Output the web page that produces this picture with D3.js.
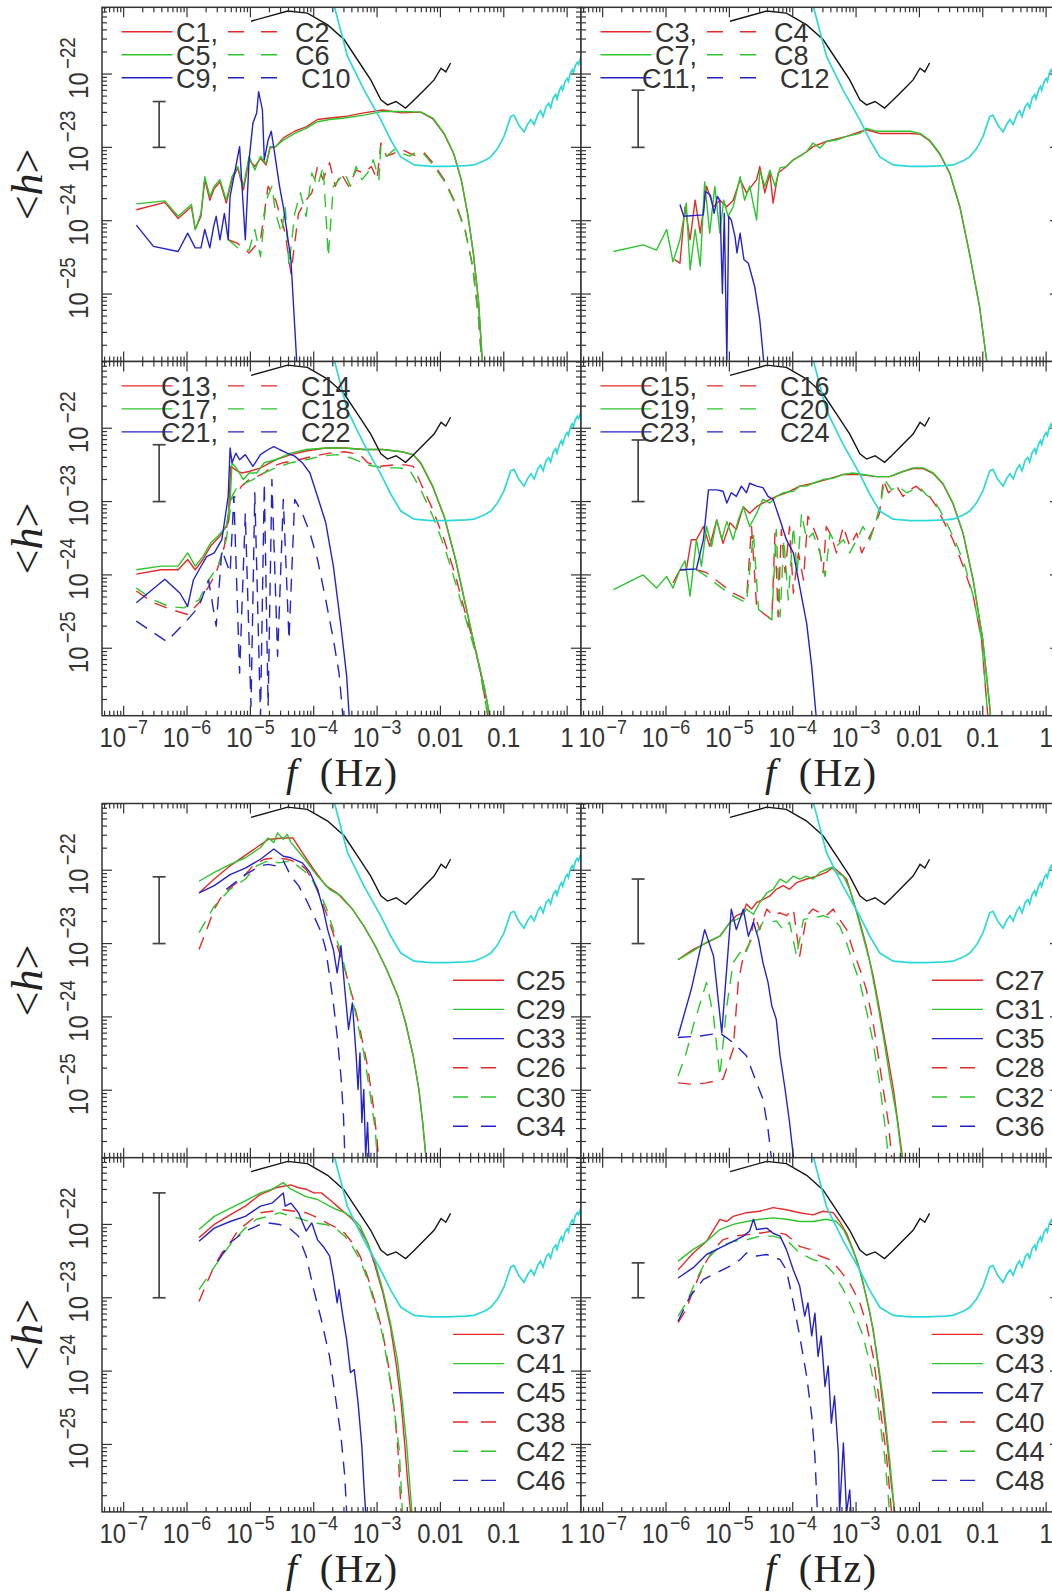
<!DOCTYPE html>
<html><head><meta charset="utf-8">
<script src="https://cdn.jsdelivr.net/npm/d3@7"></script>
<style>body{margin:0;background:#fff}svg{display:block}</style>
</head><body>
<svg id="c" width="1052" height="1596"></svg>
<script>
// ===== DATA (log10 f [Hz], log10 <h>) =====
const X_TICK_VALUES = [1e-7,1e-6,1e-5,1e-4,1e-3,0.01,0.1,1];
const X_TICK_LABELS = [["10","\u22127"],["10","\u22126"],["10","\u22125"],["10","\u22124"],["10","\u22123"],["0.01",""],["0.1",""],["1",""]];
const Y_TICK_VALUES = [1e-25,1e-24,1e-23,1e-22];
const Y_TICK_LABELS = [["10","\u221225"],["10","\u221224"],["10","\u221223"],["10","\u221222"]];

const BLACK_F = [-4.99,-4.41,-4.10,-3.78,-3.52,-3.26,-3.10,-2.94,-2.835,-2.70,-2.55,-2.44,-2.26,-2.10,-1.99,-1.915,-1.84];
const BLACK_H = [-21.28,-21.14,-21.17,-21.33,-21.53,-21.87,-22.08,-22.35,-22.42,-22.375,-22.465,-22.375,-22.22,-22.08,-21.92,-21.97,-21.85];

const CYAN = [[-3.85,-20.75],[-3.68,-21.06],[-3.466,-21.76],[-3.204,-22.22],[-2.94,-22.625],[-2.783,-22.90],[-2.625,-23.13],[-2.415,-23.24],[-2.15,-23.26],[-1.89,-23.26],[-1.6,-23.25],[-1.47,-23.24],[-1.3,-23.18],[-1.205,-23.13],[-1.1,-23.02],[-0.995,-22.85],[-0.89,-22.58],[-0.84,-22.56],[-0.76,-22.70],[-0.68,-22.79],[-0.62,-22.68],[-0.57,-22.62],[-0.52,-22.69],[-0.46,-22.55],[-0.42,-22.50],[-0.38,-22.58],[-0.33,-22.44],[-0.29,-22.40],[-0.26,-22.46],[-0.22,-22.33],[-0.18,-22.28],[-0.16,-22.34],[-0.12,-22.22],[-0.09,-22.17],[-0.07,-22.22],[-0.03,-22.10],[0.00,-22.06],[0.02,-22.10],[0.05,-21.99],[0.08,-21.94],[0.10,-21.98],[0.13,-21.88],[0.16,-21.84],[0.18,-21.87],[0.21,-21.79],[0.25,-21.74]];

// Panel 1
const C1 = [[-6.80,-23.85],[-6.35,-23.75],[-6.14,-23.97],[-5.93,-23.81],[-5.87,-24.12],[-5.78,-23.94],[-5.72,-23.44],[-5.64,-23.72],[-5.57,-23.56],[-5.48,-23.47],[-5.38,-23.76],[-5.29,-23.44],[-5.20,-23.28],[-5.11,-23.58],[-5.02,-23.17],[-4.93,-23.26],[-4.84,-23.15],[-4.75,-23.24],[-4.69,-23.01],[-4.60,-22.99],[-4.48,-22.87],[-4.30,-22.78],[-4.12,-22.72],[-3.94,-22.62],[-3.75,-22.60],[-3.51,-22.58],[-3.21,-22.53],[-2.91,-22.49],[-2.61,-22.53],[-2.31,-22.52],[-2.12,-22.61],[-1.94,-22.82],[-1.79,-23.09],[-1.67,-23.45],[-1.57,-23.91],[-1.48,-24.45],[-1.40,-25.09],[-1.34,-25.90],[-1.30,-26.5]];
const C2 = [[-5.35,-24.26],[-5.20,-24.31],[-5.02,-24.44],[-4.84,-24.26],[-4.72,-23.53],[-4.60,-23.72],[-4.45,-24.17],[-4.36,-24.72],[-4.24,-23.90],[-4.12,-23.72],[-4.03,-23.62],[-3.94,-23.26],[-3.85,-23.44],[-3.75,-23.21],[-3.66,-23.53],[-3.57,-23.35],[-3.45,-23.53],[-3.33,-23.31],[-3.21,-23.35],[-3.09,-23.26],[-3.00,-23.44],[-2.94,-22.94],[-2.85,-23.12],[-2.73,-23.08],[-2.61,-23.03],[-2.49,-23.08],[-2.37,-23.12],[-2.25,-23.08],[-2.12,-23.21],[-1.94,-23.44],[-1.76,-23.76],[-1.61,-24.12],[-1.49,-24.62],[-1.40,-25.31],[-1.35,-25.90],[-1.31,-26.44]];
const C5 = [[-6.80,-23.77],[-6.35,-23.73],[-6.14,-23.94],[-5.93,-23.78],[-5.87,-24.12],[-5.78,-23.90],[-5.72,-23.40],[-5.64,-23.67],[-5.57,-23.53],[-5.48,-23.44],[-5.38,-23.72],[-5.29,-23.40],[-5.20,-23.26],[-5.11,-23.53],[-5.02,-23.12],[-4.93,-23.31],[-4.84,-23.12],[-4.75,-23.22],[-4.69,-22.99],[-4.60,-22.99],[-4.48,-22.90],[-4.30,-22.81],[-4.12,-22.74],[-3.94,-22.65],[-3.75,-22.62],[-3.51,-22.60],[-3.21,-22.56],[-2.91,-22.51],[-2.61,-22.51],[-2.31,-22.52],[-2.12,-22.60],[-1.94,-22.81],[-1.79,-23.08],[-1.67,-23.44],[-1.57,-23.90],[-1.48,-24.44],[-1.40,-25.08],[-1.34,-25.90],[-1.30,-26.5]];
const C6 = [[-5.35,-24.26],[-5.20,-24.37],[-5.02,-24.40],[-4.93,-24.12],[-4.84,-24.49],[-4.75,-23.72],[-4.66,-23.53],[-4.60,-23.90],[-4.51,-24.17],[-4.45,-23.81],[-4.39,-24.62],[-4.30,-23.90],[-4.21,-23.62],[-4.12,-23.94],[-4.03,-23.35],[-3.94,-23.53],[-3.85,-23.26],[-3.77,-24.49],[-3.69,-23.53],[-3.60,-23.44],[-3.51,-23.35],[-3.42,-23.53],[-3.33,-23.26],[-3.24,-23.44],[-3.15,-23.35],[-3.06,-23.17],[-2.97,-23.44],[-2.94,-22.99],[-2.85,-23.12],[-2.73,-23.03],[-2.61,-23.08],[-2.49,-23.12],[-2.37,-23.06],[-2.25,-23.10],[-2.12,-23.24],[-1.94,-23.46],[-1.76,-23.78],[-1.61,-24.14],[-1.49,-24.64],[-1.40,-25.33],[-1.35,-25.90],[-1.31,-26.44]];
const C9 = [[-6.80,-24.06],[-6.53,-24.35],[-6.14,-24.42],[-5.99,-24.17],[-5.87,-24.37],[-5.78,-24.37],[-5.72,-24.12],[-5.64,-24.37],[-5.58,-24.08],[-5.54,-23.94],[-5.48,-24.26],[-5.41,-23.90],[-5.35,-24.26],[-5.32,-23.67],[-5.26,-23.40],[-5.17,-22.99],[-5.08,-24.26],[-5.02,-23.17],[-4.96,-22.67],[-4.90,-22.53],[-4.87,-22.24],[-4.81,-22.49],[-4.78,-23.17],[-4.72,-22.90],[-4.67,-22.78],[-4.61,-23.12],[-4.54,-23.53],[-4.48,-23.81],[-4.36,-24.53],[-4.27,-25.90],[-4.24,-26.44]];
const C10 = [];
// Panel 2
const C3 = [[-5.86,-24.53],[-5.78,-24.58],[-5.70,-23.81],[-5.62,-24.26],[-5.54,-23.72],[-5.46,-24.17],[-5.36,-23.53],[-5.25,-23.81],[-5.15,-23.72],[-5.04,-23.81],[-4.94,-23.72],[-4.83,-23.44],[-4.73,-23.62],[-4.57,-23.44],[-4.52,-23.26],[-4.44,-23.62],[-4.36,-23.35],[-4.31,-23.76],[-4.23,-23.35],[-4.10,-23.26],[-3.99,-23.17],[-3.89,-23.12],[-3.78,-23.06],[-3.68,-22.99],[-3.47,-22.92],[-3.15,-22.85],[-2.84,-22.76],[-2.63,-22.81],[-2.41,-22.81],[-2.15,-22.81],[-1.99,-22.82],[-1.84,-22.91],[-1.68,-23.09],[-1.52,-23.36],[-1.36,-23.82],[-1.21,-24.45],[-1.05,-25.18],[-0.94,-25.90],[-0.89,-26.35]];
const C4 = [];
const C7 = [[-6.83,-24.42],[-6.36,-24.33],[-6.15,-24.40],[-5.99,-24.12],[-5.89,-24.56],[-5.78,-24.26],[-5.68,-23.76],[-5.62,-24.67],[-5.54,-24.12],[-5.46,-24.62],[-5.39,-23.47],[-5.31,-24.17],[-5.23,-23.53],[-5.15,-24.17],[-5.09,-23.72],[-5.02,-23.94],[-4.94,-23.81],[-4.83,-23.40],[-4.76,-23.72],[-4.68,-23.53],[-4.57,-23.99],[-4.52,-23.31],[-4.44,-23.53],[-4.36,-23.31],[-4.28,-23.53],[-4.20,-23.28],[-4.10,-23.26],[-3.99,-23.17],[-3.89,-23.12],[-3.78,-23.06],[-3.68,-22.94],[-3.57,-23.01],[-3.47,-22.92],[-3.31,-22.90],[-3.15,-22.85],[-2.94,-22.81],[-2.84,-22.74],[-2.68,-22.78],[-2.41,-22.78],[-2.15,-22.78],[-1.99,-22.81],[-1.84,-22.90],[-1.68,-23.08],[-1.52,-23.35],[-1.36,-23.81],[-1.21,-24.44],[-1.05,-25.17],[-0.94,-25.90],[-0.89,-26.35]];
const C8 = [];
const C11 = [[-5.78,-23.78],[-5.72,-23.94],[-5.41,-23.92],[-5.38,-23.60],[-5.30,-23.65],[-5.24,-23.90],[-5.19,-23.67],[-5.15,-23.72],[-5.11,-24.99],[-5.08,-23.90],[-5.04,-25.90],[-5.01,-23.94],[-4.97,-23.99],[-4.91,-24.22],[-4.88,-24.44],[-4.83,-24.17],[-4.77,-24.53],[-4.70,-24.58],[-4.60,-24.90],[-4.52,-25.35],[-4.46,-25.90],[-4.43,-26.4]];
const C12 = [];
// Panel 3
const C13 = [[-6.80,-23.99],[-6.41,-23.93],[-6.14,-23.93],[-5.99,-23.79],[-5.87,-23.93],[-5.75,-23.79],[-5.63,-23.61],[-5.48,-23.47],[-5.35,-23.29],[-5.31,-22.52],[-5.23,-22.57],[-5.14,-22.61],[-5.02,-22.59],[-4.84,-22.54],[-4.60,-22.43],[-4.36,-22.36],[-4.12,-22.31],[-3.81,-22.27],[-3.51,-22.27],[-3.21,-22.29],[-2.91,-22.29],[-2.61,-22.32],[-2.43,-22.36],[-2.31,-22.48],[-2.12,-22.80],[-1.94,-23.21],[-1.76,-23.80],[-1.61,-24.39],[-1.46,-24.98],[-1.31,-25.53],[-1.22,-25.93],[-1.18,-26.2]];
const C14 = [[-6.80,-24.22],[-6.53,-24.38],[-6.26,-24.47],[-5.99,-24.54],[-5.81,-24.38],[-5.66,-24.16],[-5.54,-23.97],[-5.41,-23.61],[-5.32,-22.97],[-5.23,-22.93],[-5.14,-22.79],[-5.02,-22.70],[-4.90,-22.66],[-4.78,-22.61],[-4.66,-22.52],[-4.48,-22.47],[-4.24,-22.43],[-4.00,-22.38],[-3.75,-22.34],[-3.51,-22.32],[-3.27,-22.36],[-3.15,-22.47],[-2.97,-22.52],[-2.73,-22.50],[-2.55,-22.50],[-2.43,-22.52],[-2.31,-22.75],[-2.12,-23.11],[-1.94,-23.52],[-1.76,-24.02],[-1.58,-24.61],[-1.40,-25.16],[-1.25,-25.93],[-1.19,-26.25]];
const C17 = [[-6.80,-23.93],[-6.41,-23.88],[-6.14,-23.88],[-5.99,-23.70],[-5.87,-23.88],[-5.75,-23.75],[-5.63,-23.57],[-5.51,-23.47],[-5.38,-23.34],[-5.32,-23.02],[-5.29,-22.47],[-5.20,-22.57],[-5.11,-22.70],[-5.02,-22.61],[-4.90,-22.61],[-4.78,-22.47],[-4.60,-22.43],[-4.36,-22.34],[-4.12,-22.29],[-3.81,-22.27],[-3.51,-22.27],[-3.21,-22.29],[-2.91,-22.29],[-2.61,-22.32],[-2.43,-22.36],[-2.31,-22.47],[-2.12,-22.79],[-1.94,-23.20],[-1.76,-23.79],[-1.61,-24.38],[-1.46,-24.97],[-1.31,-25.52],[-1.22,-25.93],[-1.18,-26.2]];
const C18 = [[-6.80,-24.18],[-6.53,-24.34],[-6.29,-24.43],[-6.05,-24.45],[-5.81,-24.34],[-5.66,-24.07],[-5.51,-23.88],[-5.38,-23.52],[-5.29,-22.93],[-5.20,-22.79],[-5.08,-22.75],[-4.96,-22.70],[-4.78,-22.61],[-4.60,-22.54],[-4.36,-22.47],[-4.12,-22.43],[-3.88,-22.38],[-3.63,-22.36],[-3.39,-22.41],[-3.15,-22.50],[-2.91,-22.54],[-2.67,-22.54],[-2.49,-22.56],[-2.31,-22.84],[-2.12,-23.20],[-1.94,-23.61],[-1.76,-24.11],[-1.58,-24.66],[-1.40,-25.20],[-1.25,-25.93],[-1.19,-26.25]];
const C21 = [[-6.80,-24.38],[-6.35,-24.06],[-6.11,-24.25],[-5.99,-24.43],[-5.90,-24.07],[-5.81,-23.93],[-5.69,-23.75],[-5.57,-23.70],[-5.45,-23.52],[-5.35,-22.93],[-5.32,-22.27],[-5.29,-22.47],[-5.23,-22.34],[-5.17,-22.43],[-5.08,-22.36],[-4.96,-22.52],[-4.84,-22.36],[-4.72,-22.29],[-4.63,-22.25],[-4.54,-22.29],[-4.42,-22.34],[-4.30,-22.38],[-4.18,-22.47],[-4.06,-22.61],[-3.94,-22.93],[-3.81,-23.29],[-3.69,-23.88],[-3.57,-24.70],[-3.48,-25.38],[-3.44,-25.93],[-3.42,-26.25]];
const C22 = [[-6.80,-24.63],[-6.32,-24.91],[-5.99,-24.61],[-5.81,-24.43],[-5.66,-24.07],[-5.54,-24.70],[-5.45,-23.66],[-5.32,-23.97],[-5.26,-22.93],[-5.17,-25.34],[-5.08,-23.16],[-4.99,-25.79],[-4.93,-22.88],[-4.84,-25.93],[-4.78,-22.75],[-4.72,-25.79],[-4.66,-22.70],[-4.57,-25.11],[-4.48,-22.97],[-4.39,-24.88],[-4.30,-22.97],[-4.18,-23.16],[-4.06,-23.43],[-3.94,-23.79],[-3.81,-24.34],[-3.69,-24.88],[-3.60,-25.34],[-3.54,-25.93],[-3.52,-26.2]];
// Panel 4
const C15 = [[-5.89,-24.11],[-5.78,-23.93],[-5.68,-23.93],[-5.60,-23.52],[-5.52,-23.52],[-5.41,-23.34],[-5.31,-23.61],[-5.20,-23.25],[-5.10,-23.57],[-4.99,-23.29],[-4.89,-23.38],[-4.78,-23.07],[-4.68,-23.16],[-4.57,-23.07],[-4.47,-23.02],[-4.36,-22.97],[-4.26,-22.93],[-4.10,-22.88],[-3.89,-22.79],[-3.68,-22.75],[-3.47,-22.70],[-3.20,-22.63],[-2.94,-22.63],[-2.68,-22.66],[-2.47,-22.66],[-2.26,-22.59],[-2.10,-22.55],[-1.94,-22.55],[-1.78,-22.62],[-1.63,-22.76],[-1.47,-23.03],[-1.31,-23.44],[-1.15,-24.08],[-1.00,-24.89],[-0.89,-25.80],[-0.85,-26.25]];
const C16 = [[-5.52,-23.93],[-5.36,-23.97],[-5.15,-24.11],[-4.94,-24.25],[-4.73,-24.34],[-4.65,-23.34],[-4.57,-24.43],[-4.47,-24.52],[-4.33,-24.61],[-4.28,-23.43],[-4.23,-24.57],[-4.18,-23.38],[-4.12,-23.97],[-4.05,-23.34],[-3.99,-24.25],[-3.91,-23.70],[-3.83,-24.07],[-3.76,-23.20],[-3.68,-23.34],[-3.60,-23.52],[-3.52,-23.97],[-3.47,-23.34],[-3.39,-23.47],[-3.31,-23.70],[-3.20,-23.34],[-3.10,-23.61],[-2.99,-23.43],[-2.91,-23.70],[-2.84,-23.57],[-2.73,-23.38],[-2.63,-23.16],[-2.57,-22.70],[-2.49,-22.88],[-2.36,-22.79],[-2.26,-22.93],[-2.15,-22.84],[-2.05,-22.79],[-1.94,-22.88],[-1.84,-22.93],[-1.73,-23.07],[-1.63,-23.25],[-1.47,-23.52],[-1.31,-23.88],[-1.15,-24.29],[-1.02,-24.88],[-0.92,-25.93],[-0.89,-26.25]];
const C19 = [[-6.83,-24.20],[-6.36,-24.00],[-6.15,-24.18],[-5.99,-24.02],[-5.89,-24.18],[-5.78,-23.93],[-5.70,-23.81],[-5.62,-24.29],[-5.52,-23.52],[-5.44,-23.88],[-5.36,-23.34],[-5.28,-23.61],[-5.20,-23.25],[-5.12,-23.52],[-5.04,-23.27],[-4.94,-23.52],[-4.86,-23.25],[-4.78,-23.07],[-4.68,-23.34],[-4.57,-23.16],[-4.47,-22.97],[-4.36,-23.02],[-4.26,-22.93],[-4.15,-22.88],[-3.99,-22.86],[-3.89,-22.79],[-3.78,-22.79],[-3.68,-22.75],[-3.52,-22.70],[-3.36,-22.68],[-3.20,-22.63],[-3.05,-22.61],[-2.89,-22.63],[-2.68,-22.66],[-2.47,-22.66],[-2.26,-22.59],[-2.10,-22.54],[-1.94,-22.54],[-1.78,-22.61],[-1.63,-22.75],[-1.47,-23.02],[-1.31,-23.43],[-1.15,-24.07],[-1.00,-24.88],[-0.89,-25.79],[-0.85,-26.25]];
const C20 = [[-5.52,-23.93],[-5.36,-24.02],[-5.15,-24.16],[-4.94,-24.29],[-4.73,-24.38],[-4.62,-23.43],[-4.54,-24.47],[-4.41,-24.57],[-4.33,-24.61],[-4.26,-23.38],[-4.20,-24.57],[-4.14,-23.52],[-4.07,-24.34],[-3.99,-23.34],[-3.93,-23.97],[-3.86,-23.16],[-3.78,-23.52],[-3.68,-23.43],[-3.57,-23.70],[-3.49,-24.02],[-3.41,-23.43],[-3.31,-23.61],[-3.20,-23.52],[-3.10,-23.70],[-2.99,-23.52],[-2.89,-23.34],[-2.78,-23.52],[-2.68,-23.25],[-2.60,-22.97],[-2.55,-22.70],[-2.44,-22.84],[-2.34,-22.79],[-2.20,-22.88],[-2.10,-22.84],[-1.99,-22.81],[-1.89,-22.91],[-1.78,-22.97],[-1.68,-23.11],[-1.57,-23.29],[-1.42,-23.57],[-1.28,-23.88],[-1.15,-24.29],[-1.02,-24.88],[-0.92,-25.93],[-0.89,-26.25]];
const C23 = [[-5.78,-23.93],[-5.52,-23.92],[-5.41,-23.52],[-5.33,-22.84],[-5.20,-22.84],[-5.10,-22.86],[-5.04,-23.02],[-4.97,-22.88],[-4.89,-22.93],[-4.81,-22.79],[-4.73,-22.88],[-4.68,-22.75],[-4.57,-22.79],[-4.47,-22.81],[-4.39,-22.93],[-4.31,-22.97],[-4.20,-23.25],[-4.10,-23.52],[-3.99,-23.70],[-3.89,-24.16],[-3.78,-24.66],[-3.70,-25.25],[-3.63,-25.93],[-3.61,-26.25]];
const C24 = [];
// Panel 5
const C25 = [[-5.81,-22.31],[-5.57,-22.12],[-5.32,-21.94],[-5.02,-21.76],[-4.72,-21.58],[-4.48,-21.56],[-4.33,-21.56],[-4.18,-21.76],[-4.00,-21.99],[-3.81,-22.21],[-3.63,-22.31],[-3.39,-22.53],[-3.21,-22.76],[-3.03,-23.03],[-2.85,-23.35],[-2.67,-23.72],[-2.55,-24.08],[-2.43,-24.53],[-2.34,-24.99],[-2.28,-25.44],[-2.23,-25.90],[-2.22,-26.35]];
const C26 = [[-5.81,-23.08],[-5.69,-22.81],[-5.57,-22.53],[-5.45,-22.35],[-5.32,-22.24],[-5.14,-22.12],[-4.96,-21.94],[-4.78,-21.85],[-4.60,-21.83],[-4.42,-21.85],[-4.24,-21.90],[-4.12,-21.99],[-4.00,-22.17],[-3.88,-22.40],[-3.75,-22.71],[-3.63,-23.03],[-3.51,-23.35],[-3.39,-23.72],[-3.27,-24.17],[-3.15,-24.67],[-3.06,-25.21],[-3.00,-25.67],[-2.96,-26.12]];
const C29 = [[-5.81,-22.15],[-5.57,-22.03],[-5.32,-21.92],[-5.08,-21.83],[-4.84,-21.69],[-4.72,-21.56],[-4.63,-21.62],[-4.57,-21.49],[-4.48,-21.58],[-4.42,-21.51],[-4.36,-21.62],[-4.18,-21.81],[-3.94,-22.08],[-3.75,-22.26],[-3.57,-22.35],[-3.39,-22.53],[-3.21,-22.76],[-3.03,-23.03],[-2.85,-23.35],[-2.67,-23.72],[-2.55,-24.08],[-2.43,-24.53],[-2.34,-24.99],[-2.28,-25.44],[-2.23,-25.90],[-2.22,-26.35]];
const C30 = [[-5.81,-22.85],[-5.69,-22.67],[-5.57,-22.49],[-5.32,-22.26],[-5.08,-22.12],[-4.90,-21.94],[-4.72,-21.87],[-4.54,-21.90],[-4.36,-21.87],[-4.18,-21.99],[-4.06,-22.08],[-3.94,-22.26],[-3.81,-22.49],[-3.69,-22.81],[-3.57,-23.12],[-3.45,-23.53],[-3.33,-23.99],[-3.21,-24.49],[-3.12,-24.99],[-3.03,-25.53],[-2.98,-26.12]];
const C33 = [[-5.81,-22.31],[-5.57,-22.21],[-5.32,-22.06],[-5.08,-21.97],[-4.84,-21.85],[-4.63,-21.71],[-4.48,-21.81],[-4.36,-21.83],[-4.18,-21.90],[-4.06,-22.03],[-3.94,-22.26],[-3.85,-22.53],[-3.78,-22.81],[-3.69,-23.08],[-3.63,-23.40],[-3.57,-23.03],[-3.51,-23.62],[-3.45,-24.17],[-3.39,-23.81],[-3.33,-24.53],[-3.30,-24.99],[-3.27,-24.49],[-3.24,-25.44],[-3.21,-24.99],[-3.18,-25.90],[-3.15,-25.44],[-3.12,-26.12]];
const C34 = [[-5.38,-22.26],[-5.08,-22.06],[-4.84,-21.94],[-4.72,-21.92],[-4.60,-21.94],[-4.48,-21.87],[-4.36,-22.08],[-4.24,-22.21],[-4.12,-22.40],[-4.00,-22.62],[-3.88,-22.85],[-3.81,-23.08],[-3.75,-23.44],[-3.69,-23.81],[-3.63,-24.26],[-3.57,-24.81],[-3.53,-25.35],[-3.50,-26.12]];
// Panel 6
const C27 = [[-5.81,-23.22],[-5.57,-23.08],[-5.36,-22.99],[-5.15,-22.90],[-4.99,-22.71],[-4.89,-22.62],[-4.78,-22.58],[-4.73,-22.46],[-4.65,-22.53],[-4.57,-22.44],[-4.47,-22.40],[-4.36,-22.35],[-4.26,-22.26],[-4.15,-22.21],[-4.05,-22.26],[-3.94,-22.17],[-3.78,-22.12],[-3.62,-22.08],[-3.47,-22.03],[-3.36,-21.96],[-3.26,-22.03],[-3.15,-22.12],[-3.05,-22.40],[-2.94,-22.71],[-2.84,-23.03],[-2.73,-23.44],[-2.63,-23.90],[-2.52,-24.44],[-2.41,-24.99],[-2.34,-25.44],[-2.27,-25.90],[-2.25,-26.17]];
const C28 = [[-5.81,-24.90],[-5.57,-24.92],[-5.36,-24.90],[-5.10,-24.85],[-4.94,-24.44],[-4.86,-23.53],[-4.78,-23.17],[-4.68,-22.99],[-4.60,-22.62],[-4.52,-22.81],[-4.41,-22.53],[-4.31,-22.62],[-4.20,-22.58],[-4.10,-22.62],[-3.99,-22.53],[-3.89,-23.17],[-3.78,-22.62],[-3.68,-22.53],[-3.57,-22.58],[-3.47,-22.62],[-3.36,-22.53],[-3.26,-22.67],[-3.15,-22.81],[-3.05,-23.08],[-2.94,-23.35],[-2.84,-23.62],[-2.73,-24.08],[-2.65,-24.53],[-2.57,-24.99],[-2.49,-25.44],[-2.44,-25.90],[-2.41,-26.17]];
const C31 = [[-5.81,-23.22],[-5.57,-23.10],[-5.36,-22.98],[-5.15,-22.90],[-4.99,-22.71],[-4.83,-22.65],[-4.73,-22.53],[-4.62,-22.60],[-4.52,-22.44],[-4.41,-22.31],[-4.31,-22.26],[-4.20,-22.12],[-4.10,-22.17],[-3.99,-22.08],[-3.89,-22.12],[-3.78,-22.08],[-3.68,-22.12],[-3.57,-22.03],[-3.47,-21.99],[-3.39,-21.96],[-3.31,-22.03],[-3.20,-22.08],[-3.10,-22.26],[-2.99,-22.58],[-2.89,-22.90],[-2.78,-23.26],[-2.68,-23.72],[-2.57,-24.26],[-2.47,-24.81],[-2.36,-25.35],[-2.28,-25.90],[-2.26,-26.17]];
const C32 = [[-5.81,-24.81],[-5.68,-24.49],[-5.57,-24.12],[-5.46,-23.81],[-5.36,-23.53],[-5.25,-23.99],[-5.15,-24.81],[-5.04,-23.85],[-4.94,-23.26],[-4.83,-23.12],[-4.76,-23.17],[-4.68,-22.99],[-4.57,-22.85],[-4.47,-22.71],[-4.36,-22.71],[-4.26,-22.69],[-4.15,-22.81],[-4.05,-22.71],[-3.94,-23.17],[-3.83,-22.67],[-3.68,-22.65],[-3.52,-22.62],[-3.36,-22.67],[-3.26,-22.76],[-3.15,-22.99],[-3.05,-23.26],[-2.94,-23.53],[-2.84,-23.90],[-2.73,-24.35],[-2.63,-24.90],[-2.55,-25.44],[-2.49,-25.90],[-2.47,-26.17]];
const C35 = [[-5.81,-24.26],[-5.60,-23.62],[-5.39,-22.81],[-5.25,-23.17],[-5.12,-24.22],[-4.97,-22.53],[-4.89,-22.81],[-4.78,-22.53],[-4.70,-22.90],[-4.62,-22.71],[-4.54,-22.94],[-4.47,-23.26],[-4.39,-23.53],[-4.33,-23.85],[-4.26,-24.03],[-4.20,-24.53],[-4.12,-24.99],[-4.05,-25.44],[-3.99,-25.90],[-3.97,-26.17]];
const C36 = [[-5.81,-24.28],[-5.46,-24.26],[-5.15,-24.22],[-4.94,-24.35],[-4.73,-24.53],[-4.57,-24.90],[-4.47,-25.12],[-4.39,-25.53],[-4.34,-25.90],[-4.31,-26.17]];
// Panel 7
const C37 = [[-5.81,-22.18],[-5.57,-22.00],[-5.32,-21.87],[-5.08,-21.75],[-4.84,-21.59],[-4.72,-21.55],[-4.60,-21.50],[-4.48,-21.48],[-4.36,-21.46],[-4.24,-21.50],[-4.12,-21.52],[-4.00,-21.57],[-3.88,-21.57],[-3.75,-21.66],[-3.63,-21.75],[-3.51,-21.84],[-3.39,-21.93],[-3.27,-22.07],[-3.15,-22.25],[-3.03,-22.57],[-2.91,-22.93],[-2.79,-23.39],[-2.70,-23.89],[-2.62,-24.43],[-2.56,-25.03],[-2.52,-25.48],[-2.47,-25.93],[-2.44,-26.3]];
const C38 = [[-5.81,-23.05],[-5.69,-22.80],[-5.57,-22.57],[-5.45,-22.39],[-5.32,-22.25],[-5.20,-22.09],[-5.02,-21.96],[-4.84,-21.84],[-4.66,-21.82],[-4.48,-21.80],[-4.30,-21.82],[-4.12,-21.84],[-3.94,-21.91],[-3.75,-22.00],[-3.63,-22.05],[-3.51,-22.12],[-3.39,-22.25],[-3.27,-22.43],[-3.15,-22.71],[-3.03,-23.07],[-2.91,-23.48],[-2.82,-23.93],[-2.73,-24.52],[-2.67,-25.07],[-2.62,-25.93],[-2.60,-26.25]];
const C41 = [[-5.81,-22.07],[-5.57,-21.89],[-5.32,-21.78],[-5.08,-21.68],[-4.84,-21.57],[-4.66,-21.52],[-4.48,-21.43],[-4.36,-21.52],[-4.12,-21.62],[-3.94,-21.66],[-3.75,-21.75],[-3.63,-21.80],[-3.51,-21.84],[-3.39,-21.91],[-3.27,-22.02],[-3.15,-22.25],[-3.03,-22.52],[-2.91,-22.89],[-2.79,-23.34],[-2.68,-23.84],[-2.60,-24.43],[-2.53,-25.03],[-2.49,-25.48],[-2.45,-25.93],[-2.42,-26.3]];
const C42 = [[-5.81,-22.89],[-5.63,-22.66],[-5.45,-22.43],[-5.26,-22.21],[-5.08,-22.05],[-4.90,-21.93],[-4.72,-21.89],[-4.54,-21.84],[-4.36,-21.89],[-4.18,-21.93],[-4.00,-21.98],[-3.81,-22.00],[-3.63,-22.07],[-3.51,-22.16],[-3.39,-22.30],[-3.27,-22.48],[-3.15,-22.75],[-3.03,-23.12],[-2.91,-23.52],[-2.82,-23.98],[-2.73,-24.52],[-2.65,-25.07],[-2.60,-25.93],[-2.57,-26.25]];
const C45 = [[-5.81,-22.23],[-5.57,-22.05],[-5.32,-21.96],[-5.08,-21.89],[-4.84,-21.75],[-4.66,-21.71],[-4.48,-21.57],[-4.45,-21.75],[-4.36,-21.71],[-4.24,-21.84],[-4.12,-22.09],[-4.03,-21.98],[-3.94,-22.21],[-3.85,-22.30],[-3.75,-22.43],[-3.69,-22.71],[-3.63,-23.07],[-3.60,-22.89],[-3.54,-23.25],[-3.48,-23.57],[-3.42,-24.02],[-3.36,-23.98],[-3.30,-24.43],[-3.24,-25.03],[-3.21,-25.52],[-3.18,-25.93],[-3.16,-26.25]];
const C46 = [[-5.51,-22.50],[-5.32,-22.25],[-5.08,-22.09],[-4.84,-22.00],[-4.72,-21.98],[-4.54,-22.00],[-4.36,-22.07],[-4.24,-22.16],[-4.12,-22.43],[-4.00,-22.89],[-3.88,-23.30],[-3.75,-23.80],[-3.66,-24.34],[-3.57,-24.89],[-3.51,-25.43],[-3.48,-25.93],[-3.47,-26.25]];
// Panel 8
const C39 = [[-5.81,-22.62],[-5.57,-22.39],[-5.36,-22.23],[-5.15,-21.93],[-5.04,-21.96],[-4.94,-21.89],[-4.73,-21.84],[-4.52,-21.82],[-4.31,-21.77],[-4.10,-21.80],[-3.89,-21.84],[-3.68,-21.87],[-3.52,-21.82],[-3.36,-21.84],[-3.26,-21.96],[-3.15,-22.12],[-3.05,-22.34],[-2.94,-22.62],[-2.84,-22.98],[-2.73,-23.43],[-2.63,-24.07],[-2.52,-24.89],[-2.44,-25.57],[-2.39,-25.93],[-2.36,-26.25]];
const C40 = [[-5.81,-23.34],[-5.68,-23.16],[-5.57,-22.89],[-5.41,-22.57],[-5.25,-22.34],[-5.10,-22.21],[-4.94,-22.16],[-4.73,-22.14],[-4.52,-22.12],[-4.31,-22.09],[-4.10,-22.14],[-3.89,-22.30],[-3.73,-22.34],[-3.57,-22.43],[-3.41,-22.48],[-3.26,-22.62],[-3.10,-22.80],[-2.94,-23.07],[-2.84,-23.34],[-2.73,-23.80],[-2.63,-24.43],[-2.52,-25.16],[-2.44,-25.93],[-2.41,-26.25]];
const C43 = [[-5.81,-22.50],[-5.57,-22.34],[-5.36,-22.23],[-5.15,-22.07],[-4.94,-22.00],[-4.73,-21.96],[-4.52,-21.93],[-4.31,-21.91],[-4.10,-21.93],[-3.89,-21.96],[-3.68,-21.96],[-3.47,-21.93],[-3.31,-21.96],[-3.20,-22.07],[-3.10,-22.25],[-2.99,-22.48],[-2.89,-22.80],[-2.78,-23.21],[-2.68,-23.71],[-2.57,-24.39],[-2.47,-25.21],[-2.39,-25.93],[-2.36,-26.25]];
const C44 = [[-5.81,-23.25],[-5.68,-23.07],[-5.52,-22.75],[-5.36,-22.48],[-5.15,-22.30],[-4.94,-22.23],[-4.73,-22.21],[-4.52,-22.16],[-4.31,-22.16],[-4.10,-22.21],[-3.89,-22.39],[-3.68,-22.48],[-3.52,-22.52],[-3.36,-22.66],[-3.20,-22.89],[-3.05,-23.16],[-2.89,-23.52],[-2.76,-23.98],[-2.65,-24.52],[-2.55,-25.16],[-2.47,-25.93],[-2.44,-26.25]];
const C47 = [[-5.81,-22.73],[-5.57,-22.59],[-5.36,-22.41],[-5.15,-22.32],[-4.94,-22.23],[-4.78,-22.16],[-4.68,-22.09],[-4.62,-21.93],[-4.57,-22.07],[-4.41,-22.05],[-4.31,-22.12],[-4.20,-22.16],[-4.10,-22.34],[-3.99,-22.62],[-3.89,-22.84],[-3.81,-23.25],[-3.76,-23.07],[-3.70,-23.52],[-3.65,-23.21],[-3.60,-23.80],[-3.55,-23.52],[-3.49,-24.21],[-3.44,-23.93],[-3.39,-24.71],[-3.34,-24.34],[-3.28,-25.12],[-3.26,-25.93],[-3.20,-24.98],[-3.15,-25.93],[-3.10,-25.62],[-3.06,-26.25]];
const C48 = [[-5.81,-23.32],[-5.62,-22.98],[-5.41,-22.75],[-5.20,-22.66],[-4.99,-22.57],[-4.83,-22.48],[-4.73,-22.39],[-4.57,-22.43],[-4.41,-22.41],[-4.20,-22.48],[-4.10,-22.62],[-3.99,-23.07],[-3.89,-23.52],[-3.78,-24.07],[-3.70,-24.61],[-3.65,-25.16],[-3.61,-25.93],[-3.60,-26.25]];

// panel membership, order: [red solid, red dashed, green solid, green dashed, blue solid, blue dashed]
const PANEL_SERIES = [
  ["C1","C2","C5","C6","C9","C10"], ["C3","C4","C7","C8","C11","C12"],
  ["C13","C14","C17","C18","C21","C22"], ["C15","C16","C19","C20","C23","C24"],
  ["C25","C26","C29","C30","C33","C34"], ["C27","C28","C31","C32","C35","C36"],
  ["C37","C38","C41","C42","C45","C46"], ["C39","C40","C43","C44","C47","C48"]
];
// calibration error bars: log10 f, log10 bottom, log10 top per panel
const ERRBAR_F = -6.44;
const ERRBAR_LOW = -23.0;
const ERRBAR_HIGH = [-22.375,-22.22,-22.225,-22.16,-22.09,-22.12,-21.57,-22.524];

const SERIES = {C1,C2,C3,C4,C5,C6,C7,C8,C9,C10,C11,C12,C13,C14,C15,C16,C17,C18,C19,C20,C21,C22,C23,C24,
  C25,C26,C27,C28,C29,C30,C31,C32,C33,C34,C35,C36,C37,C38,C39,C40,C41,C42,C43,C44,C45,C46,C47,C48};

// ===== LAYOUT / STYLE =====
const W = 479, H = 354.2;
const COL_X = [102, 581];
const ROW_Y = [7.3, 361.5, 803.5, 1157.7];
const COLORS = ["#e52a2a","#e52a2a","#2cc62c","#2cc62c","#2323c8","#2323c8"];
const SANS = "'Liberation Sans', Arial, Helvetica, sans-serif";
const SERIF = "'Liberation Serif', 'Times New Roman', serif";
const TXT = "#333";
const P10 = v => Math.pow(10, v);

const svg = d3.select("#c");
svg.append("rect").attr("width",1052).attr("height",1596).attr("fill","#fff");
const defs = svg.append("defs");

for (let p = 0; p < 8; p++) {
  const col = p % 2, row = Math.floor(p / 2);
  const x0 = COL_X[col], top = ROW_Y[row];
  const x = d3.scaleLog().domain([P10(-7.342), P10(0.219)]).range([x0, x0 + W]);
  const y = d3.scaleLog().domain([P10(-25.92), P10(-21.09)]).range([top + H, top]);
  const g = svg.append("g");
  g.append("rect").attr("x",x0).attr("y",top).attr("width",W).attr("height",H).attr("fill","#fff");

  defs.append("clipPath").attr("id","clip"+p).append("rect")
    .attr("x",x0).attr("y",top).attr("width",W).attr("height",H);
  const plot = g.append("g").attr("clip-path","url(#clip"+p+")");
  const line = d3.line().x(d => x(P10(d[0]))).y(d => y(P10(d[1])));

  const names = PANEL_SERIES[p];
  const drawOrder = [1,3,5,0,2,4];
  drawOrder.forEach(i => {
    const data = SERIES[names[i]];
    if (!data.length) return;
    plot.append("path").attr("d", line(data)).attr("fill","none")
      .attr("stroke", COLORS[i]).attr("stroke-width", 1.4)
      .attr("stroke-dasharray", i % 2 ? "13,9" : null)
      .attr("stroke-linejoin","round");
  });
  // reference curves
  plot.append("path").attr("d", line(BLACK_F.map((f,k)=>[f,BLACK_H[k]]))).attr("fill","none")
    .attr("stroke","#151515").attr("stroke-width",1.4);
  plot.append("path").attr("d", line(CYAN)).attr("fill","none")
    .attr("stroke","#2ed8d8").attr("stroke-width",1.7);

  // error bar
  const ex = x(P10(ERRBAR_F)), ey0 = y(P10(ERRBAR_LOW)), ey1 = y(P10(ERRBAR_HIGH[p]));
  const eb = g.append("g").attr("stroke","#444").attr("stroke-width",1.7);
  eb.append("line").attr("x1",ex).attr("x2",ex).attr("y1",ey0).attr("y2",ey1);
  eb.append("line").attr("x1",ex-6.5).attr("x2",ex+6.5).attr("y1",ey0).attr("y2",ey0);
  eb.append("line").attr("x1",ex-6.5).attr("x2",ex+6.5).attr("y1",ey1).attr("y2",ey1);

  // frame + ticks
  const ax = g.append("g").attr("stroke","#333").attr("stroke-width",1.2);
  const isMajor = t => Math.abs(Math.log10(t) - Math.round(Math.log10(t))) < 1e-6;
  x.ticks().forEach(t => {
    const xx = x(t); if (xx < x0 + 0.5 || xx > x0 + W - 0.5) return;
    const len = isMajor(t) ? 10 : 5;
    ax.append("line").attr("x1",xx).attr("x2",xx).attr("y1",top+H).attr("y2",top+H-len);
    ax.append("line").attr("x1",xx).attr("x2",xx).attr("y1",top).attr("y2",top+len);
  });
  y.ticks().forEach(t => {
    const yy = y(t); if (yy < top + 0.5 || yy > top + H - 0.5) return;
    const len = isMajor(t) ? 10 : 5;
    ax.append("line").attr("x1",x0).attr("x2",x0+len).attr("y1",yy).attr("y2",yy);
    ax.append("line").attr("x1",x0+W).attr("x2",x0+W-len).attr("y1",yy).attr("y2",yy);
  });
  g.append("rect").attr("x",x0).attr("y",top).attr("width",W).attr("height",H)
    .attr("fill","none").attr("stroke","#333").attr("stroke-width",1.5);

  // x tick labels on bottom panels of each group
  if (row === 1 || row === 3) {
    X_TICK_VALUES.forEach((v,k) => {
      const lg = g.append("g").attr("transform",`translate(${x(v)},${top+H+31}) scale(0.85,1)`);
      const t = lg.append("text").attr("text-anchor","middle").attr("font-family",SANS)
        .attr("font-size",28).attr("fill",TXT);
      t.append("tspan").text(X_TICK_LABELS[k][0]);
      if (X_TICK_LABELS[k][1]) t.append("tspan").attr("dx",2).attr("dy",-13).attr("font-size",21).text(X_TICK_LABELS[k][1]);
    });
    const tt = g.append("text").attr("x", x0 + W/2).attr("y", top + H + 70)
      .attr("text-anchor","middle").attr("font-family",SERIF).attr("font-size",40).attr("fill","#222")
      .attr("textLength",111).attr("lengthAdjust","spacing");
    tt.append("tspan").attr("font-style","italic").text("f");
    tt.append("tspan").text("\u2002(Hz)");
  }
  // y tick labels + title on left panels
  if (col === 0) {
    Y_TICK_VALUES.forEach((v,k) => {
      const lg = g.append("g").attr("transform",`translate(88,${y(v)-6}) rotate(-90) scale(0.85,1)`);
      const t = lg.append("text").attr("text-anchor","middle").attr("font-family",SANS)
        .attr("font-size",28).attr("fill",TXT);
      t.append("tspan").text(Y_TICK_LABELS[k][0]);
      t.append("tspan").attr("dx",4).attr("dy",-13).attr("font-size",22).text(Y_TICK_LABELS[k][1]);
    });
    const yt = g.append("text").attr("transform",`translate(42,${top+H/2}) rotate(-90)`)
      .attr("text-anchor","middle").attr("font-family",SERIF).attr("font-size",44).attr("fill","#222");
    yt.append("tspan").text("<");
    yt.append("tspan").attr("font-style","italic").text("h");
    yt.append("tspan").text(">");
  }

  // legends
  const lgd = g.append("g");
  if (row < 2) {
    for (let r = 0; r < 3; r++) {
      const yl = top + 24.4 + 23 * r;
      const sIdx = 2*r, dIdx = 2*r+1;
      lgd.append("line").attr("x1",x0+19.5).attr("x2",x0+70.5).attr("y1",yl).attr("y2",yl)
        .attr("stroke",COLORS[sIdx]).attr("stroke-width",1.4);
      lgd.append("text").attr("x",x0+116).attr("y",yl+10).attr("text-anchor","end")
        .attr("font-family",SANS).attr("font-size",27).attr("fill",TXT).text(names[sIdx]+",");
      lgd.append("line").attr("x1",x0+126).attr("x2",x0+175).attr("y1",yl).attr("y2",yl)
        .attr("stroke",COLORS[dIdx]).attr("stroke-width",1.4).attr("stroke-dasharray","16,17");
      lgd.append("text").attr("x",x0 + (names[dIdx].length > 2 ? 199 : 193)).attr("y",yl+10)
        .attr("font-family",SANS).attr("font-size",27).attr("fill",TXT).text(names[dIdx]);
    }
  } else {
    [0,2,4,1,3,5].forEach((i,k) => {
      const yl = top + 176.7 + 29.2 * k;
      lgd.append("line").attr("x1",x0+351).attr("x2",x0+402).attr("y1",yl).attr("y2",yl)
        .attr("stroke",COLORS[i]).attr("stroke-width",1.4)
        .attr("stroke-dasharray", i % 2 ? "15,13" : null);
      lgd.append("text").attr("x",x0+414).attr("y",yl+9.5)
        .attr("font-family",SANS).attr("font-size",27).attr("fill",TXT).text(names[i]);
    });
  }
}
</script>
</body></html>
